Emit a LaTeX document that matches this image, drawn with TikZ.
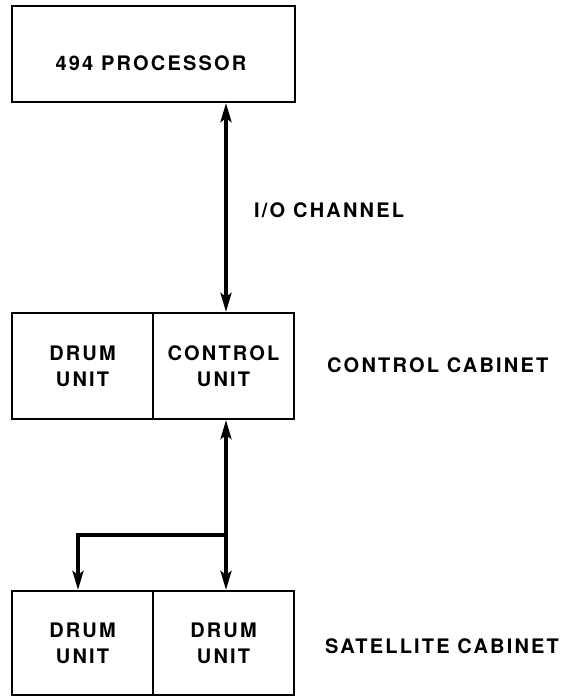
\documentclass[tikz,border=0pt]{standalone}
\usepackage{fontspec}
\setmainfont{TeX Gyre Heros}[LetterSpace=11]
\usetikzlibrary{arrows.meta}
\begin{document}
\begin{tikzpicture}[x=1pt,y=-1pt,
  txt/.style={font=\fontsize{20}{26}\bfseries\selectfont},
  box/.style={draw,line width=2.2pt,inner sep=0pt,txt,align=center},
  lbl/.style={txt,anchor=west,inner sep=0pt},
  tip/.tip={Stealth[length=19pt,width=11pt,inset=4pt]},
  link/.style={line width=3.5pt,tip-tip},
  onelink/.style={line width=3.5pt,-tip}]
\useasboundingbox (0,0) rectangle (572,696);
% boxes
\node[box,minimum width=283pt,minimum height=96pt] (proc) at (153.5,54) {};
\node[txt,inner sep=0pt] (proctext) at (151,63) {494 PROCESSOR};
\node[box,minimum width=141pt,minimum height=106pt] (drum) at (82.5,366) {DRUM\\UNIT};
\node[box,minimum width=141pt,minimum height=106pt] (ctrl) at (223.5,366) {CONTROL\\UNIT};
\node[box,minimum width=141pt,minimum height=104pt] (sata) at (82.5,643) {DRUM\\UNIT};
\node[box,minimum width=141pt,minimum height=104pt] (satb) at (223.5,643) {DRUM\\UNIT};
% labels
\node[lbl] (io) at (254,210) {I/O CHANNEL};
\node[lbl] (cc) at (327,365) {CONTROL CABINET};
\node[lbl] (sc) at (325,646) {SATELLITE CABINET};
% connectors
\coordinate (a1) at ([xshift=2.5pt]ctrl.north);
\coordinate (a2) at ([xshift=2.5pt]ctrl.south);
\coordinate (b1) at ([xshift=2.5pt]satb.north);
\coordinate (b2) at ([xshift=-4.5pt]sata.north);
\coordinate (j) at (226,535);
\draw[link] (a1 |- proc.south) -- (a1);
\draw[link] (a2) -- (b1);
\draw[onelink] (j) -- (j -| b2) -- (b2);
\end{tikzpicture}
\end{document}
